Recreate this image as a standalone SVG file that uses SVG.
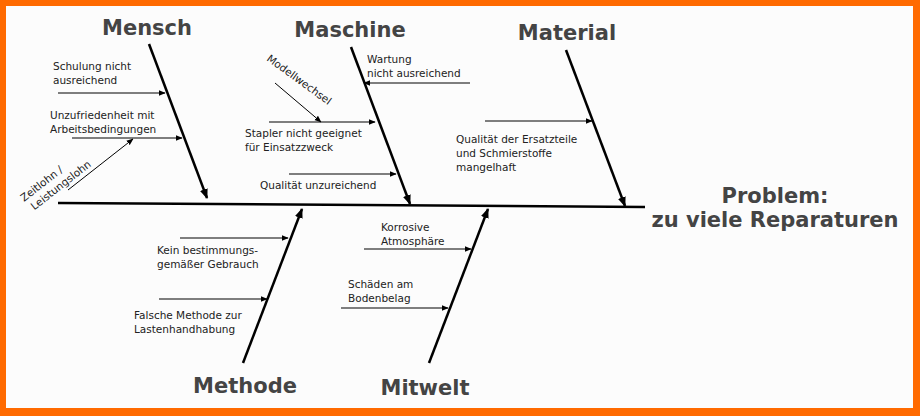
<svg xmlns="http://www.w3.org/2000/svg" width="920" height="416" viewBox="0 0 920 416">
<style>
.t{font-family:"DejaVu Sans",Verdana,sans-serif;font-size:10.5px;fill:#222}
.h{font-family:"DejaVu Sans",Verdana,sans-serif;font-size:21px;font-weight:bold;fill:#444;text-anchor:middle}
.b{stroke:#000;stroke-width:2.5;fill:none}
.s{stroke:#000;stroke-width:1;fill:none}
</style>
<defs>
<marker id="ab" viewBox="0 0 10 10" refX="9" refY="5" markerWidth="4" markerHeight="4" orient="auto" markerUnits="strokeWidth"><path d="M0,1 L10,5 L0,9 z" fill="#000"/></marker>
<marker id="as" viewBox="0 0 10 10" refX="9" refY="5" markerWidth="7" markerHeight="7" orient="auto" markerUnits="strokeWidth"><path d="M0,1 L10,5 L0,9 z" fill="#000"/></marker>
</defs>
<rect x="0" y="0" width="920" height="416" fill="#ff6a00"/>
<rect x="6" y="6" width="907" height="402" fill="#fcfcfc"/>
<g id="connectors">
<line class="b" x1="58" y1="203" x2="645" y2="207"/>
<line class="b" x1="149" y1="44" x2="207" y2="198" marker-end="url(#ab)"/>
<line class="b" x1="351" y1="47" x2="410" y2="204" marker-end="url(#ab)"/>
<line class="b" x1="566" y1="50" x2="625" y2="206" marker-end="url(#ab)"/>
<line class="b" x1="243" y1="363" x2="302" y2="209" marker-end="url(#ab)"/>
<line class="b" x1="429" y1="363" x2="488" y2="209" marker-end="url(#ab)"/>
<line class="s" x1="58" y1="93" x2="165" y2="93" marker-end="url(#as)"/>
<line class="s" x1="72" y1="138" x2="182" y2="138" marker-end="url(#as)"/>
<line class="s" x1="68" y1="190" x2="133" y2="139" marker-end="url(#as)"/>
<line class="s" x1="275" y1="83" x2="321" y2="122" marker-end="url(#as)"/>
<line class="s" x1="269" y1="122" x2="375" y2="122" marker-end="url(#as)"/>
<line class="s" x1="470" y1="83" x2="364" y2="83" marker-end="url(#as)"/>
<line class="s" x1="289" y1="174" x2="396" y2="174" marker-end="url(#as)"/>
<line class="s" x1="485" y1="121" x2="592" y2="121" marker-end="url(#as)"/>
<line class="s" x1="180" y1="238" x2="288" y2="238" marker-end="url(#as)"/>
<line class="s" x1="159" y1="299" x2="267" y2="299" marker-end="url(#as)"/>
<line class="s" x1="364" y1="249" x2="471" y2="249" marker-end="url(#as)"/>
<line class="s" x1="341" y1="308" x2="448" y2="308" marker-end="url(#as)"/>
</g>
<g id="mensch"><text class="h" x="147" y="35">Mensch</text></g>
<g id="maschine"><text class="h" x="350" y="37">Maschine</text></g>
<g id="material"><text class="h" x="567" y="40">Material</text></g>
<g id="methode"><text class="h" x="245" y="393">Methode</text></g>
<g id="mitwelt"><text class="h" x="425" y="395">Mitwelt</text></g>
<g id="problem"><text class="h" x="775" y="203">Problem:</text><text class="h" x="775" y="227">zu viele Reparaturen</text></g>
<g id="schulung"><text class="t" x="53" y="70">Schulung nicht</text><text class="t" x="53" y="84">ausreichend</text></g>
<g id="unzufriedenheit"><text class="t" x="50" y="119">Unzufriedenheit mit</text><text class="t" x="50" y="133">Arbeitsbedingungen</text></g>
<g id="zeitlohn" transform="translate(24,202) rotate(-38)"><text class="t" x="0" y="0">Zeitlohn /</text><text class="t" x="3" y="13">Leistungslohn</text></g>
<g id="modellwechsel"><text class="t" transform="translate(266,60) rotate(36)">Modellwechsel</text></g>
<g id="stapler"><text class="t" x="245" y="137">Stapler nicht geeignet</text><text class="t" x="245" y="151">für Einsatzzweck</text></g>
<g id="wartung"><text class="t" x="367" y="63">Wartung</text><text class="t" x="367" y="77">nicht ausreichend</text></g>
<g id="qualitaet"><text class="t" x="260" y="189">Qualität unzureichend</text></g>
<g id="ersatzteile"><text class="t" x="456" y="143">Qualität der Ersatzteile</text><text class="t" x="456" y="157">und Schmierstoffe</text><text class="t" x="456" y="171">mangelhaft</text></g>
<g id="kein"><text class="t" x="157" y="254">Kein bestimmungs-</text><text class="t" x="157" y="268">gemäßer Gebrauch</text></g>
<g id="falsche"><text class="t" x="134" y="319">Falsche Methode zur</text><text class="t" x="134" y="333">Lastenhandhabung</text></g>
<g id="korrosive"><text class="t" x="381" y="231">Korrosive</text><text class="t" x="381" y="245">Atmosphäre</text></g>
<g id="schaeden"><text class="t" x="348" y="288">Schäden am</text><text class="t" x="348" y="302">Bodenbelag</text></g>
</svg>
